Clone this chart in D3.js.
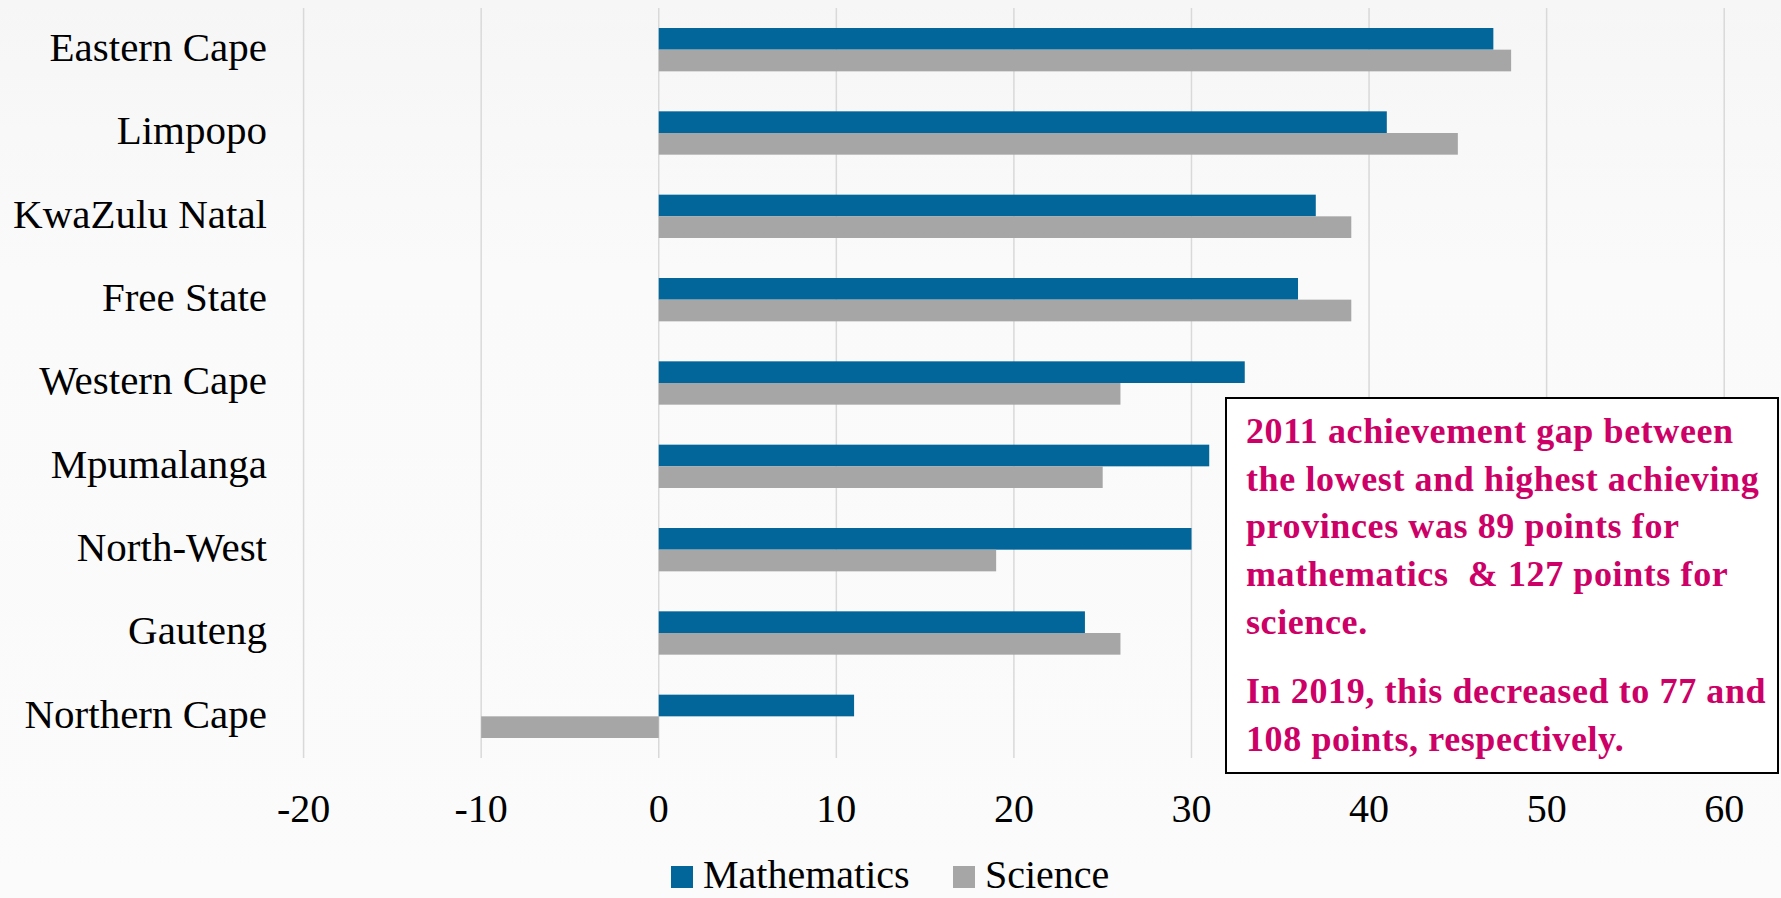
<!DOCTYPE html>
<html>
<head>
<meta charset="utf-8">
<script src="https://cdn.jsdelivr.net/npm/d3@7"></script>
<style>
  html, body { margin: 0; padding: 0; background: #fafafa; }
  svg { display: block; }
  text { white-space: pre; }
</style>
</head>
<body>
<svg id="chart" width="1781" height="898"></svg>
<script>
const provinces = ["Eastern Cape", "Limpopo", "KwaZulu Natal", "Free State", "Western Cape", "Mpumalanga", "North-West", "Gauteng", "Northern Cape"];
const mathematics = [47, 41, 37, 36, 33, 31, 30, 24, 11];
const science = [48, 45, 39, 39, 26, 25, 19, 26, -10];
const seriesNames = ["Mathematics", "Science"];
const seriesColors = ["#02669a", "#a6a6a6"];
const xTicks = [-20, -10, 0, 10, 20, 30, 40, 50, 60];
const noteLines1 = ["2011 achievement gap between", "the lowest and highest achieving", "provinces was 89 points for", "mathematics  & 127 points for", "science."];
const noteLines2 = ["In 2019, this decreased to 77 and", "108 points, respectively."];

const svg = d3.select("#chart");
const W = 1781, H = 898;
const font = "'Liberation Serif', 'Times New Roman', serif";

// background
const defs = svg.append("defs");
const grad = defs.append("linearGradient").attr("id", "bg").attr("x1", 0).attr("y1", 0).attr("x2", 0).attr("y2", 1);
grad.append("stop").attr("offset", "0%").attr("stop-color", "#f6f6f6");
grad.append("stop").attr("offset", "30%").attr("stop-color", "#fafafa");
grad.append("stop").attr("offset", "100%").attr("stop-color", "#fbfbfb");
svg.append("rect").attr("width", W).attr("height", H).attr("fill", "url(#bg)");

const x = d3.scaleLinear().domain([-20, 60]).range([303.6, 1724.2]);
const y = d3.scaleBand().domain(provinces).range([8, 758]).paddingInner(0.48).paddingOuter(0.24);
const ySub = d3.scaleBand().domain(seriesNames).range([0, y.bandwidth()]);

// gridlines
svg.append("g").selectAll("line").data(xTicks).join("line")
  .attr("x1", d => x(d)).attr("x2", d => x(d))
  .attr("y1", 8).attr("y2", 758)
  .attr("stroke", "#d9d9d9").attr("stroke-width", 1.5);

// bars
const data = provinces.map((p, i) => ({ p, vals: [mathematics[i], science[i]] }));
const groups = svg.append("g").selectAll("g").data(data).join("g")
  .attr("transform", d => `translate(0,${y(d.p)})`);
groups.selectAll("rect").data(d => d.vals.map((v, j) => ({ v, s: seriesNames[j], c: seriesColors[j] }))).join("rect")
  .attr("x", d => x(Math.min(0, d.v)))
  .attr("width", d => Math.abs(x(d.v) - x(0)))
  .attr("y", d => ySub(d.s))
  .attr("height", ySub.bandwidth())
  .attr("fill", d => d.c);

// category labels
svg.append("g").selectAll("text").data(provinces).join("text")
  .attr("x", 267)
  .attr("y", d => y(d) + y.bandwidth() / 2)
  .attr("dy", "0.28em")
  .attr("text-anchor", "end")
  .attr("font-family", font)
  .attr("font-size", 41)
  .attr("fill", "#000")
  .text(d => d);

// x axis labels
svg.append("g").selectAll("text").data(xTicks).join("text")
  .attr("x", d => x(d))
  .attr("y", 822)
  .attr("text-anchor", "middle")
  .attr("font-family", font)
  .attr("font-size", 40)
  .attr("fill", "#000")
  .text(d => d);

// legend
const legendItems = [{ name: seriesNames[0], color: seriesColors[0], x: 671, tx: 703 }, { name: seriesNames[1], color: seriesColors[1], x: 953, tx: 985 }];
const lg = svg.append("g");
lg.selectAll("rect").data(legendItems).join("rect")
  .attr("x", d => d.x).attr("y", 866).attr("width", 22).attr("height", 22)
  .attr("fill", d => d.color);
lg.selectAll("text").data(legendItems).join("text")
  .attr("x", d => d.tx).attr("y", 888)
  .attr("font-family", font).attr("font-size", 40).attr("fill", "#000")
  .text(d => d.name);

// annotation box
const note = svg.append("g");
note.append("rect").attr("x", 1226).attr("y", 398).attr("width", 552).attr("height", 375)
  .attr("fill", "#ffffff").attr("stroke", "#000").attr("stroke-width", 2);
const noteText = note.append("g").attr("font-family", font).attr("font-size", 36)
  .attr("font-weight", "bold").attr("fill", "#cc0066").attr("letter-spacing", 0.6);
noteText.selectAll("text.l1").data(noteLines1).join("text").attr("class", "l1")
  .attr("x", 1246).attr("y", (d, i) => 443 + i * 47.7).text(d => d);
noteText.selectAll("text.l2").data(noteLines2).join("text").attr("class", "l2")
  .attr("x", 1246).attr("y", (d, i) => 703 + i * 47.7).text(d => d);
</script>
</body>
</html>
